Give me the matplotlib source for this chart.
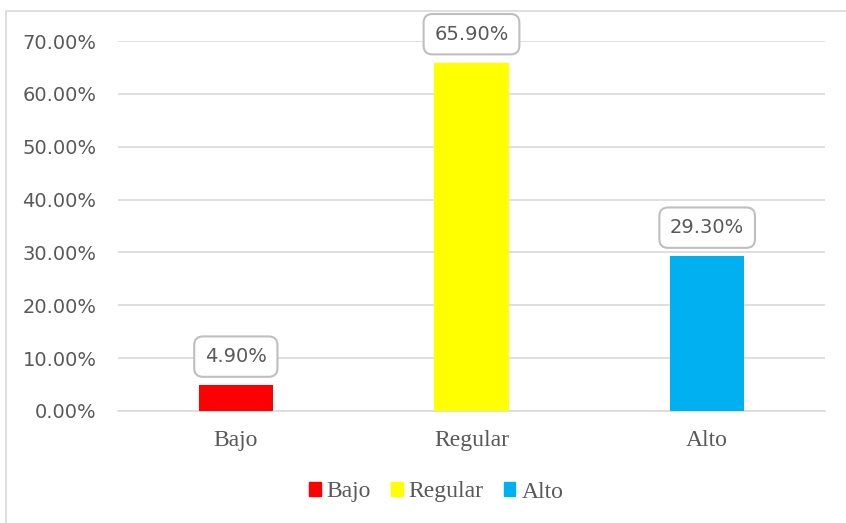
import matplotlib
matplotlib.use("Agg")
import matplotlib.pyplot as plt
from matplotlib.patches import Patch, Rectangle
from matplotlib.ticker import FuncFormatter

# data
categorias = ["Bajo", "Regular", "Alto"]
valores = [0.049, 0.659, 0.293]
colores = ["#ff0000", "#ffff00", "#00b0f0"]

fig = plt.figure(figsize=(8.46, 5.23), dpi=100)
ax = fig.add_axes([118/846, 1-411/523, (825-118)/846, (411-41)/523])

x = range(len(categorias))
bars = ax.bar(x, valores, width=0.315, color=colores, zorder=3)

ax.set_xlim(-0.5, 2.5)
ax.set_ylim(0, 0.70)
ax.set_yticks([i/10 for i in range(8)])
ax.yaxis.set_major_formatter(FuncFormatter(lambda v, p: "%.2f%%" % (v*100)))
ax.grid(axis="y", color="#d9d9d9", linewidth=1.2, zorder=0)
for s in ["top", "right", "left"]:
    ax.spines[s].set_visible(False)
ax.spines["bottom"].set_color("#d9d9d9")
ax.spines["bottom"].set_linewidth(1.2)
ax.tick_params(length=0)
ax.tick_params(axis="y", labelsize=14, labelcolor="#595959", pad=15.5)
ax.set_xticks(list(x))
ax.set_xticklabels(categorias, fontfamily="Liberation Serif", fontsize=17, color="#595959")
ax.tick_params(axis="x", pad=14)

# etiquetas de datos con recuadro
for b, v in zip(bars, valores):
    ax.annotate("%.2f%%" % (v*100), (b.get_x() + b.get_width()/2, v),
                xytext=(0, 20.5), textcoords="offset points",
                ha="center", va="center", fontsize=14, color="#595959",
                bbox=dict(boxstyle="round,pad=0.55,rounding_size=0.45",
                          fc="white", ec="#bfbfbf", lw=1.5), zorder=5)

# leyenda
handles = [Patch(color=c, label=l) for c, l in zip(colores, categorias)]
fig.legend(handles=handles, loc="center", bbox_to_anchor=(436/846, 1-492/523),
           ncol=3, frameon=False, handlelength=0.5, handleheight=0.5,
           handletextpad=0.25, columnspacing=0.85,
           prop={"family": "Liberation Serif", "size": 17},
           labelcolor="#595959")

# borde del area del grafico
fig.patches.append(Rectangle((6/846, -0.1), 1.2, 1 - 11/523 + 0.1,
                             transform=fig.transFigure, fill=False,
                             ec="#d9d9d9", lw=1.2))

fig.savefig("out.png", dpi=100)
